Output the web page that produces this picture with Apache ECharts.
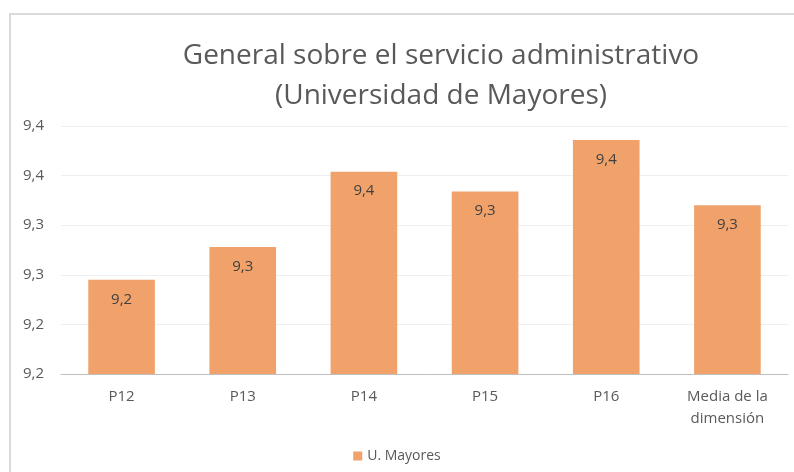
<!DOCTYPE html>
<html>
<head>
<meta charset="utf-8">
<script src="https://cdn.jsdelivr.net/npm/echarts@6/dist/echarts.min.js"></script>
<style>
  html, body { margin: 0; padding: 0; background: #ffffff; }
  #frame {
    position: absolute; left: 9px; top: 13px; width: 800px; height: 480px;
    border-left: 2px solid #d9d9d9; border-top: 2px solid #d9d9d9;
  }
  #chart { position: absolute; left: 0; top: 0; width: 794px; height: 472px; }
</style>
</head>
<body>
<div id="frame"></div>
<div id="chart"></div>
<script>
// Satisfaction scores, administrative service (University for older adults)
const categories = ['P12', 'P13', 'P14', 'P15', 'P16', 'Media de la\ndimensión'];
const seriesName = 'U. Mayores';
const scores = [9.245, 9.278, 9.354, 9.334, 9.386, 9.320];
const yMin = 9.15;
const yMax = 9.40;
const yStep = 0.05;

// One decimal, comma as decimal separator
function fmt1(v) {
  const r = Math.round(Math.round(v * 1000) / 100) / 10;
  return r.toFixed(1).replace('.', ',');
}

const font = '"Open Sans", "Noto Sans", sans-serif';
const chart = echarts.init(document.getElementById('chart'), null, { renderer: 'canvas' });
chart.setOption({
  backgroundColor: 'transparent',
  animation: false,
  title: {
    text: 'General sobre el servicio administrativo\n(Universidad de Mayores)',
    left: 436, top: 31,
    textAlign: 'center',
    textStyle: { fontFamily: font, fontSize: 28, fontWeight: 'normal', color: '#595959', lineHeight: 40 }
  },
  legend: {
    bottom: 4, left: 'center',
    itemWidth: 9, itemHeight: 9, itemGap: 8,
    icon: 'rect',
    textStyle: { fontFamily: font, fontSize: 14, color: '#595959' },
    data: [seriesName]
  },
  grid: { left: 61, right: 6, top: 126, bottom: 98 },
  xAxis: {
    type: 'category',
    data: categories,
    axisLine: { lineStyle: { color: '#bfbfbf', width: 1 } },
    axisTick: { show: false },
    axisLabel: { fontFamily: font, fontSize: 15, color: '#595959', margin: 12, lineHeight: 22 }
  },
  yAxis: {
    type: 'value',
    min: yMin, max: yMax, interval: yStep,
    axisLine: { show: false },
    axisTick: { show: false },
    splitLine: { lineStyle: { color: '#efefef', width: 1 } },
    axisLabel: { fontFamily: font, fontSize: 15, color: '#595959', margin: 17, formatter: fmt1 }
  },
  series: [{
    name: seriesName,
    type: 'bar',
    data: scores,
    barWidth: '55%',
    itemStyle: { color: '#f1a26b' },
    label: {
      show: true, position: 'insideTop', distance: 12,
      fontFamily: font, fontSize: 15, color: '#404040',
      formatter: p => fmt1(p.value)
    }
  }]
});
</script>
</body>
</html>
